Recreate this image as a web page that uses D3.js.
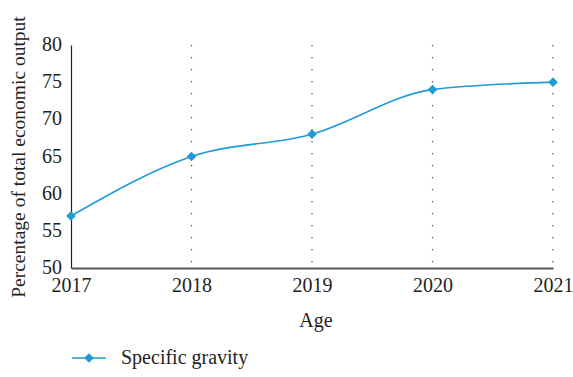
<!DOCTYPE html>
<html>
<head>
<meta charset="utf-8">
<script src="https://cdn.jsdelivr.net/npm/d3@7"></script>
<style>
  html, body { margin: 0; padding: 0; background: #fff; }
  svg { display: block; }
  text { font-family: "Liberation Serif", "DejaVu Serif", serif; fill: #231f20; }
</style>
</head>
<body>
<svg id="chart" width="573" height="377"></svg>
<script>
const years = [2017, 2018, 2019, 2020, 2021];
const shares = [57, 65, 68, 74, 75];
const yTicks = [50, 55, 60, 65, 70, 75, 80];
const seriesName = "Specific gravity";
const xTitle = "Age";
const yTitle = "Percentage of total economic output";

const color = "#1f9bd7";
const serif = '"Liberation Serif", "DejaVu Serif", serif';
const svg = d3.select("#chart");

const x = d3.scalePoint().domain(years).range([71, 553]);
const y = d3.scaleLinear().domain([50, 80]).range([268, 45]);

// vertical dotted guides at every year but the first
svg.append("g")
  .selectAll("line")
  .data(years.slice(1))
  .join("line")
  .attr("x1", d => x(d)).attr("x2", d => x(d))
  .attr("y1", y(80)).attr("y2", y(50))
  .attr("stroke", "#444")
  .attr("stroke-width", 1.2)
  .attr("stroke-dasharray", "1.2 10.8");

// y axis
const yAxis = svg.append("g")
  .attr("transform", `translate(${x(years[0])},0)`)
  .call(d3.axisLeft(y).tickValues(yTicks).tickSize(0).tickPadding(9));
yAxis.attr("font-family", null).attr("font-size", null);
yAxis.select(".domain").attr("stroke", "#231f20").attr("stroke-width", 1.2);
yAxis.selectAll("text")
  .style("font-family", serif)
  .style("font-size", "20px").attr("fill", "#231f20")
  .attr("dy", "0.28em");

// x axis
const xAxis = svg.append("g")
  .attr("transform", `translate(0,${y(50)})`)
  .call(d3.axisBottom(x).tickSize(0).tickPadding(10));
xAxis.attr("font-family", null).attr("font-size", null);
xAxis.select(".domain").attr("stroke", "#555").attr("stroke-width", 2);
xAxis.selectAll("text")
  .style("font-family", serif)
  .style("font-size", "20px").attr("fill", "#231f20");

// axis titles
svg.append("text")
  .attr("x", 316)
  .attr("y", 327)
  .attr("text-anchor", "middle")
  .style("font-family", serif)
  .style("font-size", "20px")
  .text(xTitle);

svg.append("text")
  .attr("transform", "translate(25,157) rotate(-90)")
  .attr("text-anchor", "middle")
  .style("font-family", serif)
  .style("font-size", "19.5px")
  .text(yTitle);

// series line
const data = years.map((yr, i) => ({ yr, v: shares[i] }));
svg.append("path")
  .datum(data)
  .attr("fill", "none")
  .attr("stroke", color)
  .attr("stroke-width", 1.6)
  .attr("d", d3.line().x(d => x(d.yr)).y(d => y(d.v)).curve(d3.curveMonotoneX));

const diamond = d3.symbol().type(d3.symbolDiamond2).size(60);
svg.append("g")
  .selectAll("path")
  .data(data)
  .join("path")
  .attr("transform", d => `translate(${x(d.yr)},${y(d.v)})`)
  .attr("d", diamond)
  .attr("fill", color);

// legend
const lg = svg.append("g").attr("transform", "translate(72,358)");
lg.append("line").attr("x1", 0).attr("x2", 34).attr("stroke", color).attr("stroke-width", 1.6);
lg.append("path").attr("transform", "translate(17,0)").attr("d", diamond).attr("fill", color);
lg.append("text").attr("x", 49).attr("y", 6).style("font-family", serif).style("font-size", "20px").text(seriesName);
</script>
</body>
</html>
